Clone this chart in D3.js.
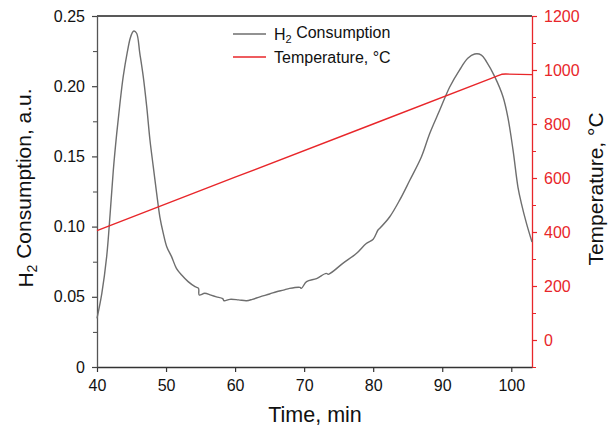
<!DOCTYPE html>
<html>
<head>
<meta charset="utf-8">
<script src="https://cdn.jsdelivr.net/npm/d3@7"></script>
<style>
  body { margin: 0; background: #fff; }
  text { font-family: "Liberation Sans", Arial, sans-serif; }
</style>
</head>
<body>
<div class="chart"></div>
<script>
// data
const h2Time = [40, 40.7, 41.4, 41.9, 42.36, 42.85, 43.33, 43.8, 44.4, 44.8, 45.1, 45.35, 45.74, 46.2, 46.7, 47.2, 47.67, 48.15, 48.64, 49.1, 49.6, 50.1, 50.8, 51.5, 52.26, 53.2, 54.2, 54.7, 54.8, 55.6, 56.5, 57.3, 58.2, 58.4, 59.25, 60.5, 61.66, 62.5, 63.6, 65, 66, 67, 67.9, 69.4, 69.6, 70.35, 71.8, 73.2, 73.5, 75.6, 77.6, 79, 80, 80.7, 80.96, 82.4, 83.85, 85.3, 86.99, 88.2, 89.64, 91.1, 92.5, 93.7, 94.7, 95.67, 96.4, 97.6, 98.8, 99.5, 100.25, 100.97, 101.46, 102.2, 103];
const h2Value = [0.0347, 0.0525, 0.0786, 0.109, 0.140, 0.166, 0.188, 0.207, 0.2246, 0.234, 0.238, 0.2393, 0.2377, 0.2234, 0.2068, 0.1854, 0.1617, 0.1427, 0.1237, 0.107, 0.0952, 0.0857, 0.0786, 0.0703, 0.0655, 0.0608, 0.0572, 0.0560, 0.0513, 0.0525, 0.0512, 0.0500, 0.0487, 0.0472, 0.0482, 0.0478, 0.0472, 0.0482, 0.0500, 0.0520, 0.0536, 0.0548, 0.0560, 0.0567, 0.0560, 0.0608, 0.0630, 0.0667, 0.0660, 0.0738, 0.0810, 0.0880, 0.0910, 0.0976, 0.0988, 0.107, 0.119, 0.133, 0.1498, 0.1665, 0.183, 0.1996, 0.2115, 0.2199, 0.2229, 0.2222, 0.2175, 0.2068, 0.1925, 0.178, 0.1546, 0.128, 0.1166, 0.1023, 0.089];

const tempTime = [40, 60, 80, 97, 98, 98.6, 99.2, 103];
const tempValue = [405, 603, 800, 968, 978, 984, 985, 983];

const xTicks = [40, 50, 60, 70, 80, 90, 100];
const yLeftTicks = [0, 0.05, 0.10, 0.15, 0.20, 0.25];
const yRightTicks = [0, 200, 400, 600, 800, 1000, 1200];

const red = "#e8262a", gray = "#6e6e6e";

const width = 608, height = 429;
const margin = {top: 16, right: 76, bottom: 62, left: 97};
const fontFam = '"Liberation Sans", Arial, sans-serif';

const svg = d3.select('.chart')
    .append('svg')
    .attr('width', width)
    .attr('height', height);

const xScale = d3.scaleLinear().domain([40, 103]).range([margin.left, width - margin.right]);
const yLeft = d3.scaleLinear().domain([0, 0.25]).range([height - margin.bottom, margin.top]);
const yRight = d3.scaleLinear().domain([-100, 1200]).range([height - margin.bottom, margin.top]);

// top frame line
svg.append("line")
    .attr("x1", xScale(40)).attr("x2", xScale(103))
    .attr("y1", yLeft(0.25)).attr("y2", yLeft(0.25))
    .attr("stroke", "#222").attr("stroke-width", 1.3);

// minor ticks
svg.append("g")
    .attr("transform", `translate(${margin.left},0)`)
    .call(d3.axisLeft(yLeft).tickValues(d3.range(0.025, 0.25, 0.05)).tickSize(4).tickFormat(""))
    .call(g => g.select(".domain").remove())
    .call(g => g.selectAll(".tick line").attr("stroke", "#444"));

svg.append("g")
    .attr("transform", `translate(${width - margin.right},0)`)
    .call(d3.axisRight(yRight).tickValues([-100, 100, 300, 500, 700, 900, 1100]).tickSize(4).tickFormat(""))
    .call(g => g.select(".domain").remove())
    .call(g => g.selectAll(".tick line").attr("stroke", red));

// bottom axis
svg.append("g")
    .attr("transform", `translate(0,${height - margin.bottom})`)
    .call(d3.axisBottom(xScale).tickValues(xTicks).tickSize(5).tickSizeOuter(0).tickPadding(8))
    .call(g => g.select(".domain").attr("stroke", "#333").attr("stroke-width", 1.3))
    .call(g => g.selectAll(".tick line").attr("stroke", "#333").attr("stroke-width", 1.2))
    .call(g => g.selectAll("text").attr("font-size", 16).attr("fill", "#111").style("font-family", fontFam));

// left axis
svg.append("g")
    .attr("transform", `translate(${margin.left},0)`)
    .call(d3.axisLeft(yLeft).tickValues(yLeftTicks).tickSize(5).tickSizeOuter(0).tickPadding(7)
        .tickFormat(d => d === 0 ? "0" : d3.format(".2f")(d)))
    .call(g => g.select(".domain").attr("stroke", "#555").attr("stroke-width", 1.3))
    .call(g => g.selectAll(".tick line").attr("stroke", "#444").attr("stroke-width", 1.2))
    .call(g => g.selectAll("text").attr("font-size", 16).attr("fill", "#111").style("font-family", fontFam));

// right axis
svg.append("g")
    .attr("transform", `translate(${width - margin.right},0)`)
    .call(d3.axisRight(yRight).tickValues(yRightTicks).tickSize(5).tickSizeOuter(0).tickPadding(7)
        .tickFormat(d3.format("d")))
    .call(g => g.select(".domain").attr("stroke", red).attr("stroke-width", 1.3))
    .call(g => g.selectAll(".tick line").attr("stroke", red).attr("stroke-width", 1.2))
    .call(g => g.selectAll("text").attr("font-size", 16).attr("fill", red).style("font-family", fontFam));

// lines
const h2Data = h2Time.map((t, i) => ({t: t, v: h2Value[i]}));
const tempData = tempTime.map((t, i) => ({t: t, v: tempValue[i]}));

svg.append("path")
    .datum(h2Data)
    .attr("fill", "none")
    .attr("stroke", gray)
    .attr("stroke-width", 1.4)
    .attr("stroke-linejoin", "round")
    .attr("d", d3.line().x(d => xScale(d.t)).y(d => yLeft(d.v)).curve(d3.curveCatmullRom));

svg.append("path")
    .datum(tempData)
    .attr("fill", "none")
    .attr("stroke", red)
    .attr("stroke-width", 1.4)
    .attr("stroke-linejoin", "round")
    .attr("d", d3.line().x(d => xScale(d.t)).y(d => yRight(d.v)));

// legend
const legend = svg.append("g").attr("font-size", 16);
[["H", gray, 34], ["Temperature, °C", red, 57]].forEach(([label, color, y]) => {
    legend.append("line")
        .attr("x1", 233).attr("x2", 266).attr("y1", y).attr("y2", y)
        .attr("stroke", color).attr("stroke-width", 1.4);
    const t = legend.append("text")
        .attr("x", 274).attr("y", y).attr("dy", "0.36em").attr("fill", "#111");
    if (label === "H") {
        t.append("tspan").text("H");
        t.append("tspan").text("2").attr("font-size", 11).attr("dy", "0.3em");
        t.append("tspan").text(" Consumption").attr("dy", "-0.3em");
    } else {
        t.text(label);
    }
});

// axis titles
svg.append("text")
    .attr("x", 315)
    .attr("y", 422)
    .attr("text-anchor", "middle")
    .attr("font-size", 21.5)
    .attr("fill", "#111")
    .text("Time, min");

const yt = svg.append("text")
    .attr("transform", "translate(33,188) rotate(-90)")
    .attr("text-anchor", "middle")
    .attr("font-size", 21)
    .attr("fill", "#111");
yt.append("tspan").text("H");
yt.append("tspan").text("2").attr("font-size", 14).attr("dy", "0.3em");
yt.append("tspan").text(" Consumption, a.u.").attr("dy", "-0.3em");

svg.append("text")
    .attr("transform", "translate(603,189) rotate(-90)")
    .attr("text-anchor", "middle")
    .attr("font-size", 21)
    .attr("fill", "#111")
    .text("Temperature, °C");
</script>
</body>
</html>
